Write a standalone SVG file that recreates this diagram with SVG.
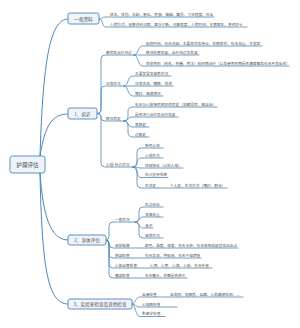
<svg xmlns="http://www.w3.org/2000/svg" width="300" height="328" viewBox="0 0 300 328">
<style>
text{font-family:"Noto Sans CJK SC","Noto Sans",sans-serif;fill:#555}
.t{font-size:3.7px}
.b{font-size:4.6px;text-anchor:middle;dominant-baseline:central}
.r{font-size:5.6px;text-anchor:middle;dominant-baseline:central}
.box{fill:#eef4fa;stroke:#4a87b9;stroke-width:0.9}
.c path{fill:none;stroke:#4a87b9;stroke-width:0.8;stroke-linecap:round}
.c .m{stroke-width:1}
</style>
<rect width="300" height="328" fill="#fff"/>
<g class="c" id="connectors">
<path class="m" d="M40 156 C43 60 50 19 68 19"/>
<path class="m" d="M40 156 C45 125 52 114 68 114"/>
<path class="m" d="M40 173 C43 215 50 240 68 240"/>
<path class="m" d="M40 173 C42 270 48 304 68 304"/>
<path d="M99 19 C103 19 101 17 106 17 H214"/>
<path d="M99 19 C104 19 101 27 106 27 H247"/>
<path d="M97 113.5 Q101 113.5 101 109.5 V59 Q101 55 105 55 H134"/>
<path d="M97 113.5 Q101 113.5 101 109.5 V90 Q101 86 105 86 H124"/>
<path d="M97 113.5 Q101 113.5 101 117.5 Q101 121 105 121 H124"/>
<path d="M97 113.5 Q101 113.5 101 117.5 V163 Q101 167 105 167 H133"/>
<path d="M134 55 C139 55 137 46 143 46 H262"/>
<path d="M134 55 H199"/>
<path d="M134 55 C139 55 137 66 143 66 H289"/>
<path d="M124 86 C129 86 127 76 133 76 H171"/>
<path d="M124 86 H173"/>
<path d="M124 86 C129 86 127 96 133 96 H163"/>
<path d="M124 121 Q128 121 128 116 V111 Q128 107 133 107 H217"/>
<path d="M124 121 C129 121 127 117 133 117 H178"/>
<path d="M124 121 C129 121 127 127 133 127 H149"/>
<path d="M124 121 Q128 121 128 126 V132 Q128 137 133 137 H149"/>
<path d="M133 167 Q137 167 137 163 V152 Q137 148 141 148 H163"/>
<path d="M133 167 C138 167 136 158 141 158 H163"/>
<path d="M133 167 C137 167 137 168 141 168 H183"/>
<path d="M133 167 C138 167 136 177.5 141 177.5 H168"/>
<path d="M133 167 Q137 167 137 171 V184 Q137 188 141 188 H158"/>
<path d="M158 188 H227"/>
<path d="M106 240 Q109 240 109 236 V226 Q109 222 113 222 H135"/>
<path d="M106 240 Q109 240 109 244 Q109 248 113 248 H238"/>
<path d="M106 240 Q109 240 109 244 V254 Q109 258 113 258 H201"/>
<path d="M106 240 Q109 240 109 244 V264 Q109 268 113 268 H212"/>
<path d="M106 240 Q109 240 109 244 V274 Q109 278 113 278 H187"/>
<path d="M135 222 Q139 222 139 218 V211 Q139 207 143 207 H163"/>
<path d="M135 222 C140 222 138 217 143 217 H163"/>
<path d="M135 222 C140 222 138 228 143 228 H153"/>
<path d="M135 222 Q139 222 139 226 V234 Q139 238 143 238 H163"/>
<path d="M132 304 C136 304 135 297 140 297 H243"/>
<path d="M132 304 C136 304 135 307 140 307 H177"/>
<path d="M132 304 C136 304 135 316.5 140 316.5 H165"/>
</g>
<g id="root"><rect class="box" x="10" y="156" width="35" height="17" rx="2.5"/><text class="r" x="27.5" y="164.5">护理评估</text></g>
<g id="n-general"><rect class="box" x="68" y="13" width="31" height="11" rx="2"/><text class="b" x="83.5" y="18.5">一般资料</text>
<text class="t" x="110" y="15.5">姓名、性别、年龄、职业、民族、婚姻、籍贯、文化程度、住址</text>
<text class="t" x="110" y="25.5">入院方式、收集资料日期、医疗诊断、可靠程度、入院时间、主管医生、责任护士</text></g>
<g id="n-history"><rect class="box" x="68" y="108" width="29" height="11" rx="2"/><text class="b" x="82.5" y="113.5">1、病史</text>
<text class="t" x="106" y="53.5">患病及治疗经过</text>
<text class="t" x="146" y="44.5">起病时间、有无诱因、主要症状及特点、伴随症状、有无加重、并发症</text>
<text class="t" x="146" y="53.5">既往检查结果、治疗经过及效果</text>
<text class="t" x="146" y="64.5">目前用药（药名、剂量、用法）和药物治疗（以及使用药物是否遵医嘱及有无不良反应）</text>
<text class="t" x="106" y="84.5">日常状况</text>
<text class="t" x="135" y="74.5">主要饮食及营养状况</text>
<text class="t" x="135" y="84.5">日常活动、睡眠、排泄</text>
<text class="t" x="135" y="94.5">嗜好、烟酒情况</text>
<text class="t" x="106" y="119.5">既往病史</text>
<text class="t" x="135" y="105.5">有无与心脏疾病相关的病史（如糖尿病、高血压）</text>
<text class="t" x="135" y="115.5">是否进行治疗及治疗效果</text>
<text class="t" x="135" y="125.5">家族史</text>
<text class="t" x="135" y="135.5">过敏史</text>
<text class="t" x="106" y="165.5">心理-社会状况</text>
<text class="t" x="145" y="146.5">疾病认知</text>
<text class="t" x="145" y="156.5">心理状况</text>
<text class="t" x="145" y="166.5">性格特征（认知人格）</text>
<text class="t" x="145" y="176">社会支持系统</text>
<text class="t" x="145" y="186.5">生活史</text>
<text class="t" x="170" y="186.5">个人史、生活方式（嗜好、职业）</text></g>
<g id="n-exam"><rect class="box" x="68" y="235" width="38" height="10" rx="2"/><text class="b" x="87" y="240">2、身体评估</text>
<text class="t" x="115" y="220.5">一般状况</text>
<text class="t" x="145" y="205.5">生命体征</text>
<text class="t" x="145" y="215.5">身高体重</text>
<text class="t" x="145" y="226.5">意识</text>
<text class="t" x="145" y="236.5">营养状况</text>
<text class="t" x="115" y="246.5">皮肤黏膜</text>
<text class="t" x="145" y="246.5">颜色、温度、湿度、有无水肿、有无皮疹或破损及出血点</text>
<text class="t" x="115" y="256.5">肺部检查</text>
<text class="t" x="145" y="256.5">有无发绀、呼吸音、有无干湿啰音</text>
<text class="t" x="115" y="266.5">心脏血管检查</text>
<text class="t" x="150" y="266.5">心界、心率、心律、心音、有无杂音</text>
<text class="t" x="115" y="276.5">腹部检查</text>
<text class="t" x="145" y="276.5">有无腹水、肝脾是否肿大</text></g>
<g id="n-lab"><rect class="box" x="68" y="299" width="64" height="10" rx="2"/><text class="b" x="100" y="304">3、实验室检查及其他检查</text>
<text class="t" x="142" y="295.5">血液检查</text>
<text class="t" x="170" y="295.5">血常规、电解质、血糖、心肌酶谱检测、...</text>
<text class="t" x="142" y="305.5">心电图检查</text>
<text class="t" x="142" y="315">影像学检查</text></g>
</svg>
